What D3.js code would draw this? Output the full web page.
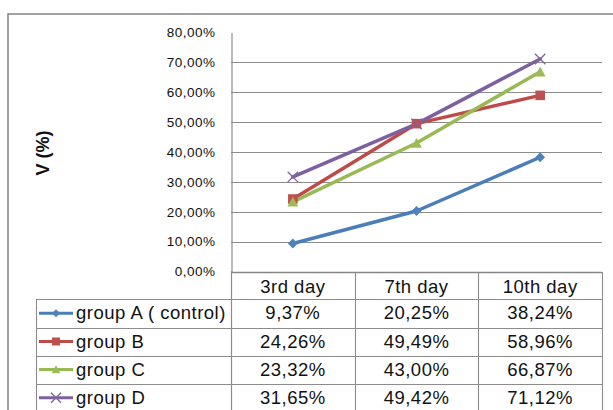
<!DOCTYPE html>
<html>
<head>
<meta charset="utf-8">
<script src="https://cdn.jsdelivr.net/npm/d3@7"></script>
<style>
  html, body { margin: 0; padding: 0; background: #fff; }
  svg { display: block; font-family: "Liberation Sans", Arial, sans-serif; }
</style>
</head>
<body>
<svg id="chart" width="613" height="410"></svg>
<script>
// Days measured and the V (%) value of each group on those days
const days = ["3rd day", "7th day", "10th day"];
const groupNames = ["group A ( control)", "group B", "group C", "group D"];
const groupA = [9.37, 20.25, 38.24];
const groupB = [24.26, 49.49, 58.96];
const groupC = [23.32, 43.00, 66.87];
const groupD = [31.65, 49.42, 71.12];
const yTicks = [0, 10, 20, 30, 40, 50, 60, 70, 80];

const series = [
  { name: groupNames[0], values: groupA, line: "#4A7EBB", fill: "#4F81BD", marker: "diamond" },
  { name: groupNames[1], values: groupB, line: "#BE4B48", fill: "#C0504D", marker: "square" },
  { name: groupNames[2], values: groupC, line: "#98B954", fill: "#9BBB59", marker: "triangle" },
  { name: groupNames[3], values: groupD, line: "#7D60A0", fill: "#8064A2", marker: "cross" }
];

const locale = d3.formatLocale({ decimal: ",", thousands: ".", grouping: [3], currency: ["", "%"] });
const pct = v => locale.format(".2f")(v) + "%";

const svg = d3.select("#chart");
const gridColor = "#8c8c8c";
const fontFamily = "'Liberation Sans', Arial, sans-serif";

// Chart frame
svg.append("rect")
  .attr("x", 8).attr("y", 14).attr("width", 640).attr("height", 430)
  .attr("fill", "#fff").attr("stroke", "#8a8a8a").attr("stroke-width", 1.6);

const x = d3.scaleBand().domain(days).range([231, 602]);
const y = d3.scaleLinear().domain([0, 80]).range([271.5, 32.5]);

// Horizontal gridlines
svg.append("g").selectAll("line")
  .data(yTicks.filter(t => t > 0 && t < 80))
  .join("line")
  .attr("x1", x.range()[0]).attr("x2", x.range()[1])
  .attr("y1", d => Math.round(y(d)) + 0.5).attr("y2", d => Math.round(y(d)) + 0.5)
  .attr("stroke", gridColor).attr("stroke-width", 1.1);

// Y axis with comma-decimal percentage labels
const yAxis = d3.axisLeft(y).tickValues(yTicks).tickSize(0).tickPadding(16).tickFormat(pct);
const gy = svg.append("g").attr("transform", "translate(231.5,0)").call(yAxis);
gy.attr("font-family", fontFamily);
gy.select(".domain").attr("stroke", gridColor).attr("stroke-width", 1.2);
gy.selectAll("text").attr("font-size", 13.5).attr("fill", "#111")
  .attr("letter-spacing", 0.5);

// Y axis title
svg.append("text")
  .attr("transform", "translate(49,153) rotate(-90)")
  .attr("text-anchor", "middle")
  .attr("font-size", 18).attr("font-weight", "bold").attr("fill", "#111")
  .text("V (%)");

// Marker shapes
function markerPath(type, cx, cy, r) {
  const p = d3.path();
  if (type === "diamond") {
    p.moveTo(cx, cy - r); p.lineTo(cx + r, cy); p.lineTo(cx, cy + r); p.lineTo(cx - r, cy); p.closePath();
  } else if (type === "square") {
    p.rect(cx - r, cy - r, 2 * r, 2 * r);
  } else if (type === "triangle") {
    p.moveTo(cx, cy - r * 1.05); p.lineTo(cx + r * 1.1, cy + r * 0.95); p.lineTo(cx - r * 1.1, cy + r * 0.95); p.closePath();
  } else {
    p.moveTo(cx - r, cy - r); p.lineTo(cx + r, cy + r);
    p.moveTo(cx + r, cy - r); p.lineTo(cx - r, cy + r);
  }
  return p.toString();
}
function drawMarker(g, s, cx, cy, r) {
  if (s.marker === "cross") {
    g.append("path").attr("d", markerPath("cross", cx, cy, r))
      .attr("fill", "none").attr("stroke", s.fill).attr("stroke-width", 1.3);
  } else {
    g.append("path").attr("d", markerPath(s.marker, cx, cy, r)).attr("fill", s.fill);
  }
}

// Series lines and markers
const line = d3.line().x((d, i) => x(days[i]) + x.bandwidth() / 2).y(d => y(d));
const plot = svg.append("g");
series.forEach(s => {
  plot.append("path").datum(s.values).attr("d", line)
    .attr("fill", "none").attr("stroke", s.line).attr("stroke-width", 3.5)
    .attr("stroke-linejoin", "round").attr("stroke-linecap", "round");
});
series.forEach(s => {
  s.values.forEach((v, i) => {
    const r = s.marker === "square" ? 4.8 : s.marker === "cross" ? 5.2 : 4.9;
    drawMarker(plot, s, x(days[i]) + x.bandwidth() / 2, y(v), r);
  });
});

// Data table under the plot
const rowTops = [272, 299, 327.5, 355.5, 383.5, 412];
const tableLeft = 36;
const table = svg.append("g");
const tl = (x1, y1, x2, y2, c, w) => table.append("line")
  .attr("x1", x1).attr("y1", y1).attr("x2", x2).attr("y2", y2)
  .attr("stroke", c || gridColor).attr("stroke-width", w || 1.1);

// Horizontal rules
rowTops.slice(1).forEach(t => tl(tableLeft, Math.round(t) + 0.5, x.range()[1], Math.round(t) + 0.5));
// Vertical rules
tl(tableLeft + 0.5, rowTops[1], tableLeft + 0.5, 412);
days.forEach(d => {
  const xr = Math.round(x(d) + x.bandwidth()) + 0.5;
  tl(xr, rowTops[0], xr, 412);
});
// Category axis line (top of the table header)
tl(x.range()[0], Math.round(y(0)) + 0.5, x.range()[1], Math.round(y(0)) + 0.5, "#868686", 1.4);
tl(231.5, 271, 231.5, 412, gridColor, 1.2);

const cellFont = 18.5;
const cellSpacing = 0.5;
// Header row
table.selectAll("text.hdr").data(days).join("text")
  .attr("class", "hdr")
  .attr("x", d => x(d) + x.bandwidth() / 2)
  .attr("y", (rowTops[0] + rowTops[1]) / 2 + 7)
  .attr("text-anchor", "middle").attr("font-size", cellFont).attr("fill", "#111")
  .attr("letter-spacing", cellSpacing)
  .text(d => d);

// Body rows: legend key, name and values
series.forEach((s, r) => {
  const cy = (rowTops[r + 1] + rowTops[r + 2]) / 2;
  const key = table.append("g");
  key.append("line").attr("x1", 39).attr("x2", 73).attr("y1", cy).attr("y2", cy)
    .attr("stroke", s.line).attr("stroke-width", 3);
  drawMarker(key, s, 56, cy, s.marker === "cross" ? 5 : 4);
  table.append("text").attr("x", 76).attr("y", cy + 6)
    .attr("font-size", cellFont).attr("fill", "#111")
    .attr("letter-spacing", cellSpacing).text(s.name);
  table.selectAll(null).data(s.values).join("text")
    .attr("x", (d, i) => x(days[i]) + x.bandwidth() / 2)
    .attr("y", cy + 6)
    .attr("text-anchor", "middle").attr("font-size", cellFont).attr("fill", "#111")
    .attr("letter-spacing", cellSpacing)
    .text(d => pct(d));
});
</script>
</body>
</html>
